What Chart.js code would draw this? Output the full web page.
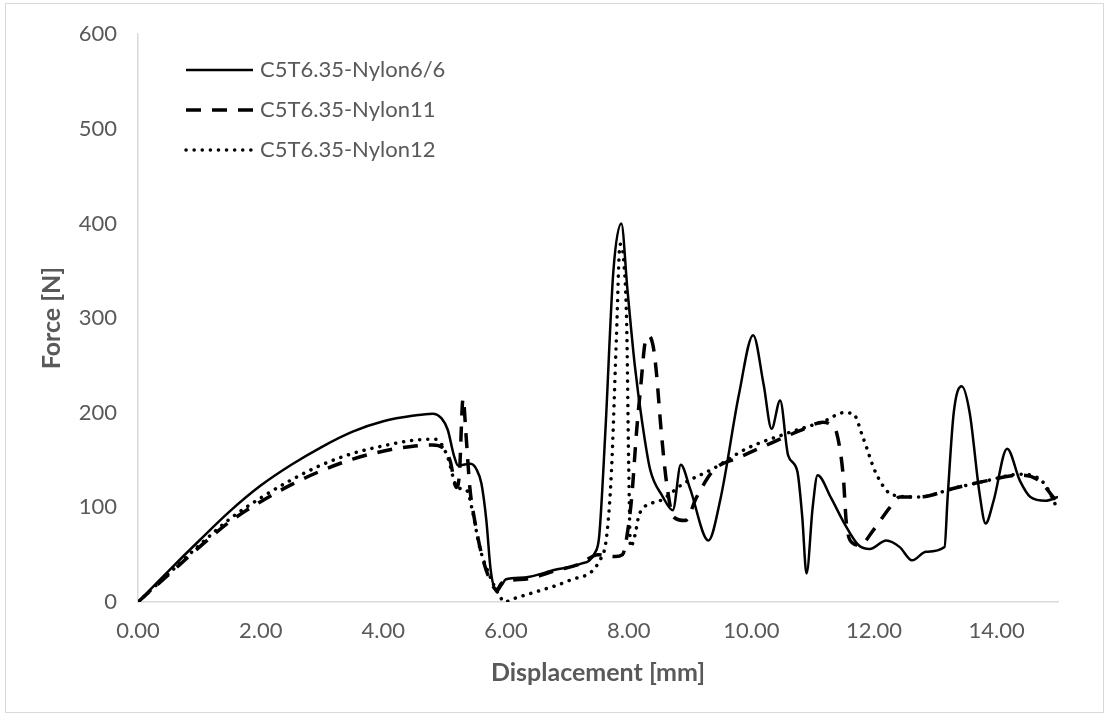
<!DOCTYPE html>
<html>
<head>
<meta charset="utf-8">
<script src="https://cdn.jsdelivr.net/npm/chart.js@4.4.1/dist/chart.umd.min.js"></script>
<style>
  html, body { margin: 0; padding: 0; background: #ffffff; }
  #chart { display: block; }
</style>
</head>
<body>
<canvas id="chart" width="1109" height="717"></canvas>
<script>
// Force-displacement curves, values
const seriesNames = ["C5T6.35-Nylon6/6", "C5T6.35-Nylon11", "C5T6.35-Nylon12"];

const nylon66X = [0, 0.5, 1.0, 1.5, 2.0, 2.5, 3.0, 3.5, 4.0, 4.5, 4.8, 4.95, 5.05, 5.15, 5.22, 5.3, 5.42, 5.52, 5.6, 5.68,
  5.75, 5.85, 5.93, 6.0, 6.3, 6.8, 7.2, 7.45, 7.52, 7.62, 7.75, 7.88, 7.98, 8.1, 8.22, 8.35, 8.55, 8.72, 8.85, 9.0,
  9.3, 9.5, 9.8, 10.03, 10.2, 10.33, 10.47, 10.6, 10.75, 10.83, 10.9, 11.0, 11.08, 11.3, 11.5, 11.75, 11.93, 12.2, 12.42, 12.62,
  12.85, 13.15, 13.2, 13.3, 13.43, 13.56, 13.72, 13.82, 13.95, 14.17, 14.38, 14.55, 14.8, 15.0];
const nylon66Y = [0, 33, 65, 96, 123, 145, 164, 180, 191, 197, 199, 194, 182, 155, 144, 145, 146, 140, 125, 86,
  34, 11, 18, 24, 26, 34, 40, 52, 70, 180, 349, 400, 330, 250, 190, 140, 112, 97, 145, 120,
  65, 110, 220, 282, 230, 183, 213, 155, 138, 90, 30, 100, 134, 110, 85, 60, 56, 65, 58, 44,
  53, 58, 110, 200, 228, 200, 115, 83, 107, 162, 128, 111, 107, 111];

const nylon11X = [0, 0.5, 1.0, 1.5, 2.0, 2.5, 3.0, 3.5, 3.9, 4.3, 4.8, 4.97, 5.09, 5.19, 5.24, 5.3, 5.35, 5.41, 5.49, 5.6,
  5.74, 5.85, 5.93, 6.0, 6.4, 6.8, 7.2, 7.5, 7.78, 7.9, 7.97, 8.05, 8.13, 8.2, 8.27, 8.33, 8.4, 8.45, 8.53, 8.62,
  8.73, 8.92, 9.11, 9.38, 9.81, 10.36, 10.79, 11.17, 11.3, 11.39, 11.5, 11.55, 11.66, 11.77, 11.99, 12.26, 12.42, 12.75, 13.29, 13.83,
  14.38, 14.65, 14.81, 14.92, 15.0];
const nylon11Y = [0, 29, 58, 85, 106, 124, 139, 151, 158, 163, 166, 163, 149, 121, 135, 215, 175, 121, 86, 51,
  23, 13, 20, 22, 25, 33, 40, 50, 48, 50, 69, 111, 181, 230, 275, 281, 270, 244, 181, 125,
  90, 86, 111, 139, 153, 169, 181, 190, 187, 179, 132, 83, 62, 60, 76, 100, 111, 111, 120, 128,
  134, 130, 120, 111, 105];

const nylon12X = [0, 0.5, 1.0, 1.5, 2.0, 2.5, 3.0, 3.5, 4.0, 4.5, 4.85, 5.05, 5.17, 5.25, 5.36, 5.46, 5.57, 5.74, 5.9, 5.98,
  6.1, 6.5, 7.04, 7.53, 7.64, 7.72, 7.8, 7.86, 7.92, 7.97, 8.0, 8.03, 8.1, 8.18, 8.51, 8.89, 9.38, 9.92, 10.57, 11.22,
  11.5, 11.66, 11.82, 12.04, 12.31, 12.75, 13.29, 13.83, 14.38, 14.65, 14.81, 15.0];
const nylon12Y = [0, 30, 60, 88, 110, 129, 145, 157, 165, 171, 172, 153, 125, 120, 118, 94, 58, 27, 6, 0,
  3, 11, 23, 44, 69, 139, 279, 378, 360, 286, 146, 58, 70, 94, 107, 125, 141, 162, 178, 192,
  200, 199, 174, 135, 113, 111, 120, 128, 135, 132, 122, 97];

const xTicksMax = 15;
const yTicksMax = 600;

function toPoints(xs, ys) {
  return xs.map((x, i) => ({ x: x, y: ys[i] }));
}

const gray = "#595959";

// legend drawn inside the plot like the Excel original
const insideLegend = {
  id: "insideLegend",
  afterDraw(chart) {
    const ctx = chart.ctx;
    const rows = [70, 110, 150];
    chart.data.datasets.forEach((ds, i) => {
      ctx.save();
      ctx.strokeStyle = ds.borderColor;
      ctx.lineWidth = ds.borderWidth;
      ctx.lineCap = ds.borderCapStyle || "butt";
      ctx.setLineDash(ds.borderDash || []);
      ctx.beginPath();
      ctx.moveTo(186, rows[i]);
      ctx.lineTo(253, rows[i]);
      ctx.stroke();
      ctx.restore();
      ctx.save();
      ctx.fillStyle = gray;
      ctx.font = "22px Lato";
      ctx.textBaseline = "middle";
      ctx.fillText(ds.label, 260, rows[i]);
      ctx.restore();
    });
  }
};

const frame = {
  id: "frame",
  beforeDraw(chart) {
    const ctx = chart.ctx;
    ctx.save();
    ctx.fillStyle = "#ffffff";
    ctx.fillRect(0, 0, chart.width, chart.height);
    ctx.strokeStyle = "#d9d9d9";
    ctx.lineWidth = 1;
    ctx.strokeRect(5.5, 3.5, 1098, 709);
    ctx.restore();
  }
};

new Chart(document.getElementById("chart"), {
  type: "line",
  data: {
    datasets: [
      {
        label: seriesNames[0],
        data: toPoints(nylon66X, nylon66Y),
        borderColor: "#000000",
        borderWidth: 2.5,
        borderJoinStyle: "round",
        cubicInterpolationMode: "monotone",
        pointRadius: 0
      },
      {
        label: seriesNames[1],
        data: toPoints(nylon11X, nylon11Y),
        borderColor: "#000000",
        borderWidth: 3.5,
        borderDash: [15, 11],
        cubicInterpolationMode: "monotone",
        pointRadius: 0
      },
      {
        label: seriesNames[2],
        data: toPoints(nylon12X, nylon12Y),
        borderColor: "#000000",
        borderWidth: 3.5,
        borderDash: [0.1, 8],
        borderCapStyle: "round",
        cubicInterpolationMode: "monotone",
        pointRadius: 0
      }
    ]
  },
  options: {
    responsive: false,
    animation: false,
    devicePixelRatio: 1,
    layout: { padding: { top: 33, right: 51, bottom: 0, left: 0 } },
    plugins: {
      legend: { display: false },
      tooltip: { enabled: false }
    },
    scales: {
      x: {
        type: "linear",
        min: 0,
        max: xTicksMax,
        grid: { display: false, drawTicks: false },
        border: { display: true, color: "#d9d9d9", width: 1.5 },
        ticks: {
          stepSize: 2,
          includeBounds: false,
          padding: 16,
          color: gray,
          font: { family: "Lato", size: 22 },
          maxRotation: 0,
          callback: (v) => v.toFixed(2)
        },
        title: {
          display: true,
          text: "Displacement [mm]",
          color: gray,
          font: { family: "Lato", size: 25, weight: "bold" },
          padding: { top: 0, bottom: 29 }
        },
        afterFit: (s) => { s.height = 115; }
      },
      y: {
        min: 0,
        max: yTicksMax,
        grid: { display: false, drawTicks: false },
        border: { display: true, color: "#d9d9d9", width: 1.5 },
        ticks: {
          stepSize: 100,
          padding: 21,
          color: gray,
          font: { family: "Lato", size: 22 }
        },
        title: {
          display: true,
          text: "Force [N]",
          color: gray,
          font: { family: "Lato", size: 25, weight: "bold" },
          padding: { top: 37, bottom: 0 }
        },
        afterFit: (s) => { s.width = 138; }
      }
    }
  },
  plugins: [frame, insideLegend]
});
</script>
</body>
</html>
